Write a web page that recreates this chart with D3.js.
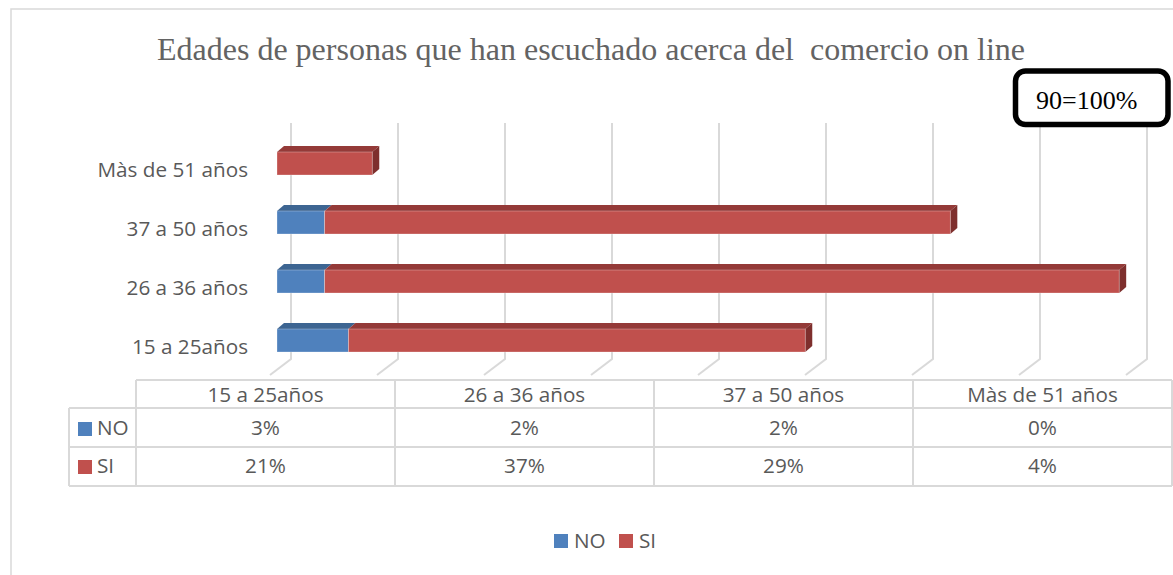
<!DOCTYPE html>
<html>
<head>
<meta charset="utf-8">
<script src="https://cdn.jsdelivr.net/npm/d3@7"></script>
<style>
  body { margin: 0; background: #fff; }
  svg { display: block; }
  text { font-family: "Open Sans", sans-serif; fill: #595959; }
</style>
</head>
<body>
<div id="chart"></div>
<script>
// Data
const categories = ["15 a 25años", "26 a 36 años", "37 a 50 años", "Màs de 51 años"];
const seriesNames = ["NO", "SI"];
const noValues = [3.3, 2.2, 2.2, 0];
const siValues = [21.1, 36.7, 28.9, 4.4];
const titleText = "Edades de personas que han escuchado acerca del  comercio on line";
const noteText = "90=100%";

const colors = {
  NO: { front: "#4f81bd", top: "#3d6592", side: "#2f5078" },
  SI: { front: "#c0504d", top: "#943a38", side: "#7e2f2d" }
};

const fontSize = "20.7px";
const fullWidth = 1173;
const fullHeight = 575;

const svg = d3.select("#chart")
  .append("svg")
  .attr("width", fullWidth)
  .attr("height", fullHeight);

// Outer chart border
svg.append("rect")
  .attr("x", 11)
  .attr("y", 9)
  .attr("width", 1300)
  .attr("height", 700)
  .attr("fill", "none")
  .attr("stroke", "#d9d9d9")
  .attr("stroke-width", 1.5);

// Title
svg.append("text")
  .attr("x", 591)
  .attr("y", 60)
  .attr("text-anchor", "middle")
  .style("font-family", "'Liberation Serif', 'Times New Roman', serif")
  .style("font-size", "32px")
  .style("fill", "#636363")
  .style("white-space", "pre")
  .text(titleText);

// Scales
const rows = categories.map((c, i) => ({ cat: c, NO: noValues[i], SI: siValues[i] }));
const stacked = d3.stack().keys(seriesNames)(rows);

// back wall (gridlines) and front face of the bars
const xBack = d3.scaleLinear().domain([0, 40]).range([291, 1147]);
const xFront = d3.scaleLinear().domain([0, 40]).range([277, 1143]);

const yScale = d3.scaleBand()
  .domain(categories.slice().reverse())
  .range([134, 370]);

const barH = 23;
const depthX = 7;
const depthY = 6;

// Grid lines (back wall + floor diagonal)
const grid = svg.append("g");
xBack.ticks(8).forEach(t => {
  const x = xBack(t);
  grid.append("path")
    .attr("d", `M${x},123 L${x},359 L${x - 21},375`)
    .attr("fill", "none")
    .attr("stroke", "#d9d9d9")
    .attr("stroke-width", 2);
});

// Category labels
svg.append("g")
  .selectAll("text")
  .data(categories)
  .join("text")
  .attr("x", 248)
  .attr("y", d => yScale(d) + yScale.bandwidth() / 2 + 13)
  .attr("text-anchor", "end")
  .style("font-size", fontSize)
  .text(d => d);

// Bars (3D look)
const bars = svg.append("g");
stacked.forEach((layer, li) => {
  const c = colors[layer.key];
  layer.forEach((d, i) => {
    if (d[1] - d[0] <= 0) return;
    const cy = yScale(d.data.cat) + yScale.bandwidth() / 2;
    const x0 = xFront(d[0]);
    const x1 = xFront(d[1]);
    const top = cy - barH / 2;
    const g = bars.append("g");

    // top face
    g.append("path")
      .attr("d", `M${x0},${top} L${x1},${top} L${x1 + depthX},${top - depthY} L${x0 + depthX},${top - depthY} Z`)
      .attr("fill", c.top);

    // right face only on the last visible segment
    const isLast = li === stacked.length - 1 || stacked.slice(li + 1).every(l => l[i][1] - l[i][0] <= 0);
    if (isLast) {
      g.append("path")
        .attr("d", `M${x1},${top} L${x1 + depthX},${top - depthY} L${x1 + depthX},${top - depthY + barH} L${x1},${top + barH} Z`)
        .attr("fill", c.side);
    }

    // front face
    g.append("rect")
      .attr("x", x0)
      .attr("y", top)
      .attr("width", x1 - x0)
      .attr("height", barH)
      .attr("fill", c.front)
      .attr("stroke", "rgba(255,255,255,0.35)")
      .attr("stroke-width", 0.8);
  });
});

// Data table
const tableLeft = 69;
const colStart = 136;
const colW = 259;
const tableRight = colStart + colW * categories.length;
const rowY = [380, 408, 447, 486];
const lineColor = "#d9d9d9";

const table = svg.append("g");

const hline = (x1, x2, y) => table.append("line")
  .attr("x1", x1).attr("x2", x2).attr("y1", y).attr("y2", y)
  .attr("stroke", lineColor).attr("stroke-width", 2);
const vline = (x, y1, y2) => table.append("line")
  .attr("x1", x).attr("x2", x).attr("y1", y1).attr("y2", y2)
  .attr("stroke", lineColor).attr("stroke-width", 2);

hline(colStart, tableRight, rowY[0]);
hline(tableLeft, tableRight, rowY[1]);
hline(tableLeft, tableRight, rowY[2]);
hline(tableLeft, tableRight, rowY[3]);
vline(tableLeft, rowY[1], rowY[3]);
d3.range(categories.length + 1).forEach(i => vline(colStart + i * colW, rowY[0], rowY[3]));

// header
categories.forEach((c, i) => {
  table.append("text")
    .attr("x", colStart + colW * i + colW / 2)
    .attr("y", 402)
    .attr("text-anchor", "middle")
    .style("font-size", fontSize)
    .text(c);
});

// rows
const tableRows = [
  { key: "NO", values: noValues, y: 435 },
  { key: "SI", values: siValues, y: 473 }
];
tableRows.forEach(r => {
  table.append("rect")
    .attr("x", 78)
    .attr("y", r.y - 13)
    .attr("width", 14)
    .attr("height", 14)
    .attr("fill", colors[r.key].front);
  table.append("text")
    .attr("x", 97)
    .attr("y", r.y)
    .style("font-size", fontSize)
    .text(r.key);
  r.values.forEach((v, i) => {
    table.append("text")
      .attr("x", colStart + colW * i + colW / 2)
      .attr("y", r.y)
      .attr("text-anchor", "middle")
      .style("font-size", fontSize)
      .text(Math.round(v) + "%");
  });
});

// Legend
const legend = svg.append("g");
const legendX = [554, 619];
seriesNames.forEach((s, i) => {
  legend.append("rect")
    .attr("x", legendX[i])
    .attr("y", 534)
    .attr("width", 14)
    .attr("height", 14)
    .attr("fill", colors[s].front);
  legend.append("text")
    .attr("x", legendX[i] + 20)
    .attr("y", 548)
    .style("font-size", fontSize)
    .text(s);
});

// Note box
svg.append("rect")
  .attr("x", 1015.5)
  .attr("y", 71)
  .attr("width", 152.5)
  .attr("height", 53.5)
  .attr("rx", 10)
  .attr("fill", "#fff")
  .attr("stroke", "#000")
  .attr("stroke-width", 5.5);

svg.append("text")
  .attr("x", 1036)
  .attr("y", 109)
  .style("font-family", "'Liberation Serif', 'Times New Roman', serif")
  .style("font-size", "26px")
  .style("fill", "#000")
  .text(noteText);
</script>
</body>
</html>
